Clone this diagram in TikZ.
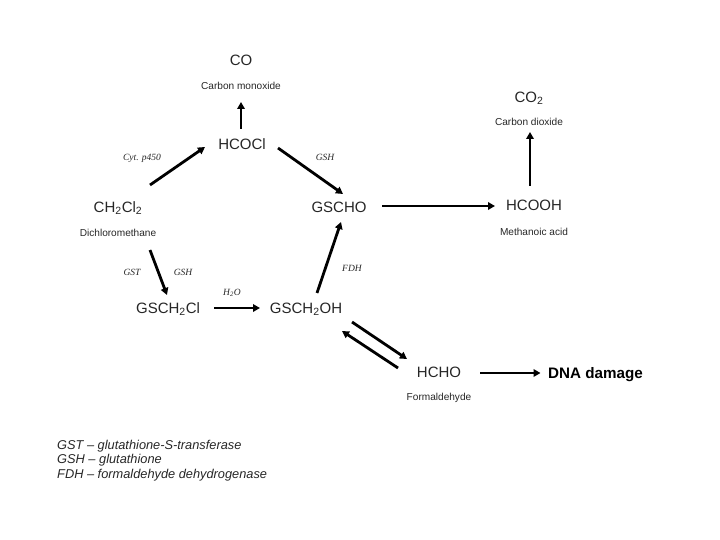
\documentclass[tikz,border=0pt]{standalone}
\usepackage{fontspec}
\setmainfont{Liberation Sans}
\newfontfamily\serifital[ItalicFont=Liberation Serif Italic]{Liberation Serif}
\usetikzlibrary{arrows.meta,calc}
\tikzset{
  chem/.style={font=\fontsize{15}{17}\selectfont,text=black!85,inner sep=0pt},
  nam/.style={font=\fontsize{10.1}{11}\selectfont,text=black!85,inner sep=0pt},
  enz/.style={font=\fontsize{9.5}{11}\selectfont\serifital\itshape,text=black!85,inner sep=0pt},
  legend/.style={font=\fontsize{12.8}{14.5}\selectfont\itshape,text=black!85,inner sep=0pt,anchor=north west,align=left},
  arr/.style={-{Triangle[length=7pt,width=7.5pt]},line width=2.8pt,black},
}
\begin{document}
\begin{tikzpicture}[x=1pt,y=-1pt]
\useasboundingbox (0,0) rectangle (720,540);
\node[chem] (co) at (241,60) {CO};
\node[nam] (cotxt) at (241,86) {Carbon monoxide};
\node[chem] (hcocl) at (242,144) {HCOCl};
\node[chem] (ch2cl2) at (118,208) {CH\textsubscript{2}Cl\textsubscript{2}};
\node[nam] (dcm) at (118,233) {Dichloromethane};
\node[chem] (gscho) at (339,207) {GSCHO};
\node[chem] (hcooh) at (534,205) {HCOOH};
\node[nam] (meth) at (534,232) {Methanoic acid};
\node[chem] (co2) at (529,98) {CO\textsubscript{2}};
\node[nam] (co2txt) at (529,122) {Carbon dioxide};
\node[chem] (gsch2cl) at (168,309) {GSCH\textsubscript{2}Cl};
\node[chem] (gsch2oh) at (306,309) {GSCH\textsubscript{2}OH};
\node[chem] (hcho) at (439,372) {HCHO};
\node[nam] (form) at (439,398) {Formaldehyde};
\node[chem,font=\fontsize{15.2}{17}\selectfont\bfseries,text=black] (dna) at (595.5,375) {DNA damage};
\node[enz] (e1) at (142,158) {Cyt. p450};
\node[enz] (e2) at (325,157) {GSH};
\node[enz] (e3) at (132,272) {GST};
\node[enz] (e4) at (183,272) {GSH};
\node[enz] (e5) at (232,293) {H\textsubscript{2}O};
\node[enz] (e6) at (352,268) {FDH};
\node[legend] (leg) at (57,440) {GST – glutathione-S-transferase\\GSH – glutathione\\FDH – formaldehyde dehydrogenase};
\draw[arr] ([shift={(-1,-15)}]hcocl.center) -- ([shift={(0,42)}]co.center);
\draw[arr] ([shift={(32,-23)}]ch2cl2.center) -- ([shift={(-37,3)}]hcocl.center);
\draw[arr] ([shift={(36,4)}]hcocl.center) -- ([shift={(4,-13)}]gscho.center);
\draw[arr] ([shift={(11,-16)}]gsch2oh.center) -- ([shift={(2,15)}]gscho.center);
\draw[arr] ([shift={(32,42)}]ch2cl2.center) -- ([shift={(-1,-14)}]gsch2cl.center);
\draw[arr] ([shift={(46,-1)}]gsch2cl.center) -- ([shift={(-46,-1)}]gsch2oh.center);
\draw[arr] ([shift={(43,-1)}]gscho.center) -- ([shift={(-39,1)}]hcooh.center);
\draw[arr] ([shift={(-4,-19)}]hcooh.center) -- ([shift={(1,34)}]co2.center);
\draw[arr] ([shift={(46,13)}]gsch2oh.center) -- ([shift={(-32,-13)}]hcho.center);
\draw[arr] ([shift={(-41,-4)}]hcho.center) -- ([shift={(36,22)}]gsch2oh.center);
\draw[arr] ([shift={(41,1)}]hcho.center) -- ([shift={(-55,-2)}]dna.center);
\end{tikzpicture}
\end{document}
